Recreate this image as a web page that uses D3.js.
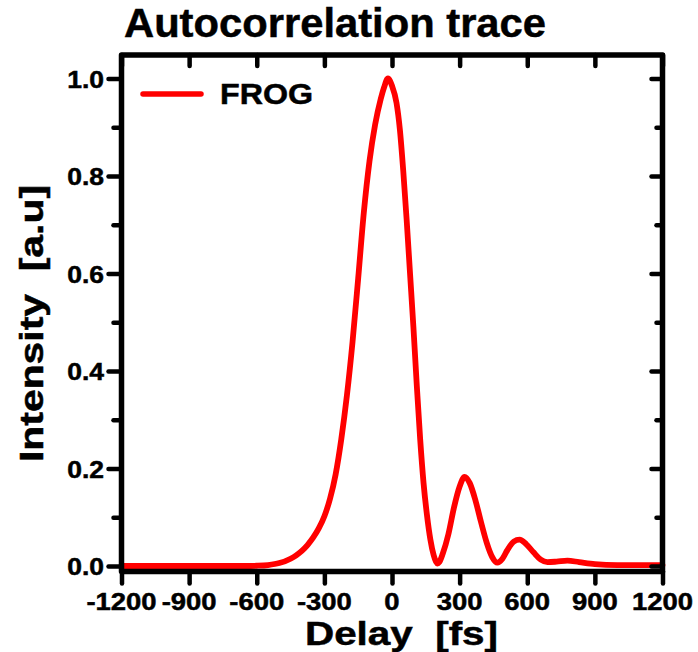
<!DOCTYPE html>
<html>
<head>
<meta charset="utf-8">
<script src="https://cdn.jsdelivr.net/npm/d3@7/dist/d3.min.js"></script>
<style>
  html, body { margin: 0; padding: 0; background: #fff; }
  svg { display: block; }
  text { font-family: "Liberation Sans", Arial, sans-serif; font-weight: bold; fill: #000;
         stroke: #000; stroke-width: 0.5px; white-space: pre; }
</style>
</head>
<body>
<svg id="chart" width="698" height="652"></svg>
<script>
// ---- data ----
const titleText = "Autocorrelation trace";
const xLabelText = "Delay  [fs]";
const yLabelText = "Intensity  [a.u]";
const seriesName = "FROG";

const xTickValues = [-1200, -900, -600, -300, 0, 300, 600, 900, 1200];
const xTickLabels = ["-1200", "-900", "-600", "-300", "0", "300", "600", "900", "1200"];
const yTickValues = [0, 0.2, 0.4, 0.6, 0.8, 1.0];
const yTickLabels = ["0.0", "0.2", "0.4", "0.6", "0.8", "1.0"];
const yMinorValues = [0.1, 0.3, 0.5, 0.7, 0.9];

const delay = [-1200, -1000, -800, -650, -600, -550, -500, -450, -425, -400, -375, -350, -325, -300,
  -275, -250, -225, -200, -175, -150, -125, -100, -75, -50, -35, -18, 0, 20, 35, 50, 65, 80, 95,
  110, 125, 140, 155, 170, 185, 195, 202, 210, 225, 250, 275, 300, 322, 345, 370, 395, 420, 445,
  467, 490, 511, 540, 566, 595, 628, 660, 690, 730, 778, 830, 900, 1000, 1100, 1200];
const intensity = [0, 0, 0, 0, 0.0005, 0.002, 0.006, 0.015, 0.022, 0.031, 0.043, 0.058, 0.077, 0.102,
  0.138, 0.188, 0.26, 0.35, 0.46, 0.59, 0.725, 0.83, 0.905, 0.958, 0.982, 1.0, 0.985, 0.95, 0.895, 0.81, 0.71, 0.60, 0.49,
  0.37, 0.26, 0.17, 0.105, 0.055, 0.022, 0.009, 0.005, 0.008, 0.025, 0.065, 0.12, 0.163, 0.183, 0.17, 0.135, 0.09, 0.048, 0.018,
  0.007, 0.015, 0.032, 0.05, 0.054, 0.045, 0.028, 0.013, 0.008, 0.009, 0.011, 0.008, 0.004, 0.002, 0.002, 0.002];

// ---- layout ----
const svg = d3.select("#chart");
const L = 121.5, R = 662.5, T = 55, B = 571.5;
const x = d3.scaleLinear().domain([-1200, 1200]).range([L, R]);
const y = d3.scaleLinear().domain([0, 1]).range([566, 78.5]);

const data = delay.map((d, i) => ({ x: d, y: intensity[i] }));

// curve
const line = d3.line().x(d => x(d.x)).y(d => y(d.y)).curve(d3.curveMonotoneX);
svg.append("path").datum(data)
  .attr("d", line)
  .attr("fill", "none")
  .attr("stroke", "#ff0000")
  .attr("stroke-width", 5.8)
  .attr("stroke-linejoin", "round")
  .attr("stroke-linecap", "round");

// axes via d3 axis generators
function styleAxis(g) {
  g.select(".domain").remove();
  g.selectAll(".tick line").attr("stroke", "#000").attr("stroke-width", 4.5).attr("stroke-linecap", "round");
  g.selectAll(".tick text").remove();
}
svg.append("g").attr("transform", `translate(0,${B})`)
  .call(d3.axisBottom(x).tickValues(xTickValues).tickSize(12).tickFormat(""))
  .call(styleAxis);
svg.append("g").attr("transform", `translate(0,${T})`)
  .call(d3.axisBottom(x).tickValues(xTickValues).tickSize(11).tickFormat(""))
  .call(styleAxis);
svg.append("g").attr("transform", `translate(${L},0)`)
  .call(d3.axisLeft(y).tickValues(yTickValues).tickSize(13).tickFormat(""))
  .call(styleAxis);
svg.append("g").attr("transform", `translate(${L},0)`)
  .call(d3.axisLeft(y).tickValues(yMinorValues).tickSize(8).tickFormat(""))
  .call(styleAxis);
svg.append("g").attr("transform", `translate(${R},0)`)
  .call(d3.axisLeft(y).tickValues(yTickValues).tickSize(11).tickFormat(""))
  .call(styleAxis);
svg.append("g").attr("transform", `translate(${R},0)`)
  .call(d3.axisLeft(y).tickValues(yMinorValues).tickSize(6).tickFormat(""))
  .call(styleAxis);

// frame
svg.append("rect")
  .attr("x", L).attr("y", T).attr("width", R - L).attr("height", B - T)
  .attr("fill", "none").attr("stroke", "#000").attr("stroke-width", 5.5)
  .attr("stroke-linejoin", "round");

function stretch(sel, factor) {
  sel.each(function () {
    const len = this.getComputedTextLength();
    d3.select(this).attr("textLength", len * factor).attr("lengthAdjust", "spacingAndGlyphs");
  });
}

// x tick labels
svg.append("g").selectAll("text").data(xTickValues).join("text")
  .attr("x", d => x(d)).attr("y", 610)
  .attr("text-anchor", "middle")
  .attr("font-size", 24.5)
  .text((d, i) => xTickLabels[i])
  .call(stretch, 1.12);

// y tick labels
svg.append("g").selectAll("text").data(yTickValues).join("text")
  .attr("x", 104).attr("y", d => y(d) + 9)
  .attr("text-anchor", "end")
  .attr("font-size", 24.5)
  .text((d, i) => yTickLabels[i])
  .call(stretch, 1.08);

// title
svg.append("text").attr("x", 124).attr("y", 37)
  .attr("font-size", 41)
  .attr("textLength", 422).attr("lengthAdjust", "spacingAndGlyphs")
  .text(titleText);

// x label
svg.append("text").attr("x", 305).attr("y", 645)
  .attr("font-size", 33)
  .attr("textLength", 193).attr("lengthAdjust", "spacingAndGlyphs")
  .text(xLabelText);

// y label
svg.append("text")
  .attr("transform", "translate(43,462) rotate(-90)")
  .attr("font-size", 33)
  .attr("textLength", 277).attr("lengthAdjust", "spacingAndGlyphs")
  .text(yLabelText);

// legend
svg.append("line")
  .attr("x1", 143).attr("x2", 201).attr("y1", 94).attr("y2", 94)
  .attr("stroke", "#ff0000").attr("stroke-width", 5.5).attr("stroke-linecap", "round");
svg.append("text").attr("x", 220).attr("y", 103.5)
  .attr("font-size", 29)
  .attr("textLength", 93).attr("lengthAdjust", "spacingAndGlyphs")
  .text(seriesName);
</script>
</body>
</html>
